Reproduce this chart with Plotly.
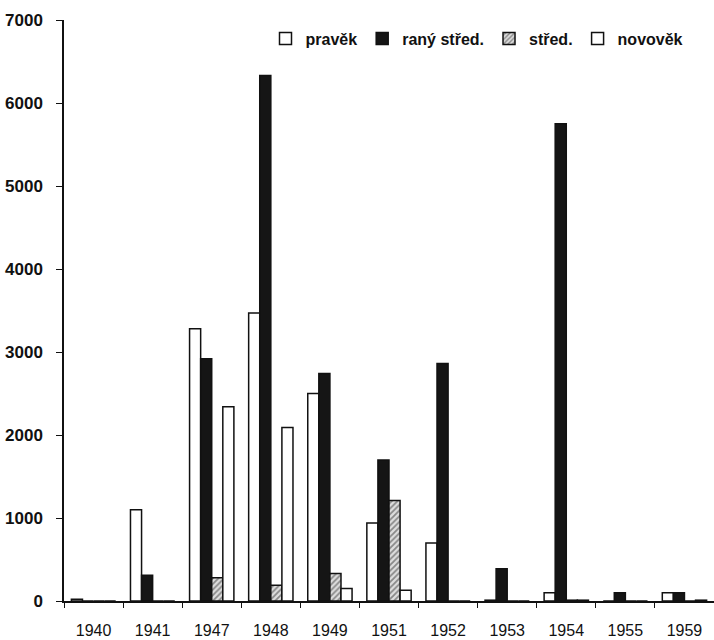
import plotly.graph_objects as go

years = ["1940", "1941", "1947", "1948", "1949", "1951", "1952", "1953", "1954", "1955", "1959"]
pravek = [20, 1100, 3280, 3470, 2500, 940, 700, 10, 100, 0, 100]
rany_stred = [0, 310, 2920, 6330, 2740, 1700, 2860, 390, 5750, 100, 100]
stred = [0, 0, 280, 190, 330, 1210, 0, 0, 10, 0, 0]
novovek = [0, 0, 2340, 2090, 150, 130, 0, 0, 10, 0, 10]
y_ticks = [0, 1000, 2000, 3000, 4000, 5000, 6000, 7000]

fig = go.Figure()
line = dict(color="#111111", width=1.5)
fig.add_trace(go.Bar(name="pravěk", x=years, y=pravek,
                     marker=dict(color="white", line=line)))
fig.add_trace(go.Bar(name="raný střed.", x=years, y=rany_stred,
                     marker=dict(color="#151515", line=line)))
fig.add_trace(go.Bar(name="střed.", x=years, y=stred,
                     marker=dict(color="white", line=line,
                                 pattern=dict(shape="/", fgcolor="#333333", bgcolor="#dddddd",
                                              size=4, solidity=0.45))))
fig.add_trace(go.Bar(name="novověk", x=years, y=novovek,
                     marker=dict(color="white", line=line)))

fig.update_layout(
    width=714, height=640,
    margin=dict(l=64, r=0, t=20, b=39),
    paper_bgcolor="white", plot_bgcolor="white",
    barmode="group", bargap=0.25, bargroupgap=0,
    font=dict(family="Liberation Sans, Arial", color="#111111"),
    showlegend=True,
    legend=dict(orientation="h", x=0.31, y=0.968, xanchor="left", yanchor="middle",
                font=dict(size=16, weight="bold"), bgcolor="rgba(0,0,0,0)",
                itemwidth=30, tracegroupgap=0),
)
fig.update_xaxes(
    type="category", showgrid=False, showline=True, linecolor="#111111", linewidth=1.5,
    ticks="outside", ticklen=5, tickcolor="#111111", tickson="boundaries",
    tickfont=dict(size=16), range=[-0.5, 10.5], ticklabelstandoff=14, automargin=False,
)
fig.update_yaxes(
    range=[0, 7000], tickvals=y_ticks, showgrid=False, zeroline=False,
    showline=True, linecolor="#111111", linewidth=1.5,
    ticks="outside", ticklen=6, tickcolor="#111111",
    tickfont=dict(size=17, weight="bold"), ticklabelstandoff=10, automargin=False,
)

fig.write_html("out.html", config={"displayModeBar": False},
               post_script="document.body.style.margin='0';")
